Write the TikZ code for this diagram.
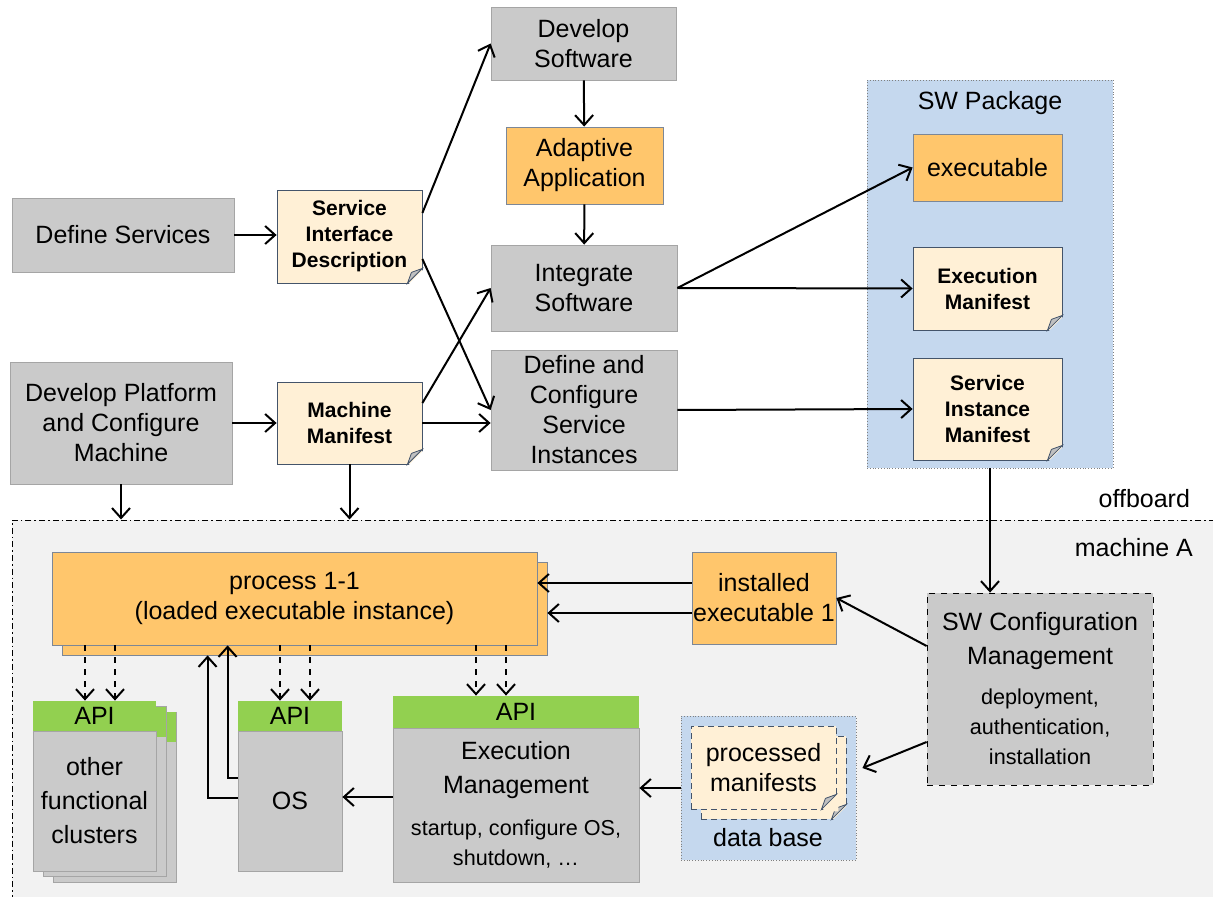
\documentclass[tikz,border=0pt]{standalone}
\usepackage{fontspec}
\setmainfont{Liberation Sans}
\usetikzlibrary{arrows.meta}

\definecolor{boxgray}{RGB}{202,202,202}
\definecolor{boxline}{RGB}{165,165,165}
\definecolor{sworange}{RGB}{255,198,108}
\definecolor{docfill}{RGB}{255,240,214}
\definecolor{docline}{RGB}{68,84,106}
\definecolor{pkgblue}{RGB}{197,216,238}
\definecolor{apigreen}{RGB}{146,208,80}
\definecolor{machbg}{RGB}{242,242,242}
\definecolor{foldgray}{RGB}{192,192,192}

\newcommand{\bigtxt}{\fontsize{12.5}{15}\selectfont}
\newcommand{\doctxt}{\fontsize{10.5}{13}\selectfont\bfseries}
\newcommand{\smalltxt}{\fontsize{10.8}{14}\selectfont}

% folded corner of a document node: node name, colour behind it
\newcommand{\dogear}[2]{%
  \fill[#2] ([xshift=-7.5pt,yshift=-1pt]#1.south east) -- ([xshift=1pt,yshift=-1pt]#1.south east)
    -- ([xshift=1pt,yshift=7.5pt]#1.south east) -- cycle;
  \filldraw[fill=foldgray, draw=docline, line width=0.4pt] ([xshift=-7.5pt]#1.south east)
    -- ([yshift=7.5pt]#1.south east) -- ([xshift=-5.5pt,yshift=5.5pt]#1.south east) -- cycle;
}

\tikzset{
  thick/.style={line width=1pt},
  graybox/.style={draw=boxline, fill=boxgray, align=center, inner sep=0.5pt},
  orangebox/.style={draw=docline!70, fill=sworange, align=center, inner sep=0.5pt},
  docbox/.style={draw=docline, fill=docfill, align=center, inner sep=0.5pt, font=\doctxt},
  apibox/.style={fill=apigreen, inner sep=0pt},
  area/.style={draw=gray, densely dotted, fill=pkgblue},
}

\begin{document}
\begin{tikzpicture}[x=0.5pt, y=-0.5pt, font=\bigtxt, >={Straight Barb[length=5pt,width=9pt]}]
            \useasboundingbox (0,0) rectangle (1213,897);
            \fill[white] (0,0) rectangle (1213,897);

            % offboard
            \node(devsw) at (583.5,43.5) [graybox, minimum width=92.5pt, minimum height=36.5pt] {Develop\\Software};
            \node(adapt) at (584.5,165.5) [orangebox, minimum width=78.5pt, minimum height=38.5pt] {Adaptive\\Application};
            \node(integ) at (584,288) [graybox, minimum width=93pt, minimum height=43pt] {Integrate\\Software};
            \node(defcfg) at (584,410) [graybox, minimum width=93pt, minimum height=60pt] {Define and\\Configure\\Service\\Instances};
            \node(defsrv) at (123,235) [graybox, minimum width=111pt, minimum height=37pt] {Define Services};
            \node(sid) at (349.5,236.5) [docbox, minimum width=72.5pt, minimum height=46.5pt] {Service\\Interface\\Description};
            \node(devplat) at (121,423) [graybox, minimum width=111pt, minimum height=61pt] {Develop Platform\\and Configure\\Machine};
            \node(mm) at (349.5,423) [docbox, minimum width=72.5pt, minimum height=41pt] {Machine\\Manifest};
            \dogear{sid}{white}
            \dogear{mm}{white}

            \node(swpkg) at (990,274) [area, minimum width=123pt, minimum height=194pt] {};
            \node(swpkg_label) at (990,103) {SW Package};
            \node(exe) at (987.5,167.5) [orangebox, minimum width=74.5pt, minimum height=33.5pt] {executable};
            \node(execman) at (987.5,288.5) [docbox, minimum width=74.5pt, minimum height=41.5pt] {Execution\\Manifest};
            \node(siman) at (987.5,409) [docbox, minimum width=74.5pt, minimum height=51pt] {Service\\Instance\\Manifest};
            \dogear{execman}{pkgblue}
            \dogear{siman}{pkgblue}

            \draw[->, thick] (defsrv.east) -- (sid.west |- defsrv.east);
            \draw[->, thick] ([yshift=11.75pt]sid.east) -- (devsw.west);
            \draw[->, thick] ([yshift=-11.25pt]sid.east) -- (defcfg.west);
            \draw[->, thick] ([yshift=10pt]mm.east) -- (integ.west);
            \draw[->, thick] (mm.east) -- (defcfg.west |- mm.east);
            \draw[->, thick] (devplat.east) -- (mm.west);
            \draw[->, thick] (devsw) -- (adapt);
            \draw[->, thick] (adapt) -- (integ);
            \draw[->, thick] (integ.east) -- (exe.west);
            \draw[->, thick] (integ.east) -- (execman.west);
            \draw[->, thick] (defcfg.east) -- (siman.west);

            % machine A
            \node(machA) at (621,712.5) [draw, fill=machbg, line width=0.5pt, dash pattern=on 3pt off 1.5pt on 0.8pt off 1.5pt, minimum width=609pt, minimum height=192.5pt] {};
            \node(offboard) at (1197,499) [anchor=east] {offboard};
            \node(machA_label) at (1200,548) [anchor=east] {machine A};

            \node(procb) at (304.5,608.5) [orangebox, minimum width=242.5pt, minimum height=46.5pt] {};
            \node(proc) at (294.5,598.5) [orangebox, minimum width=242.5pt, minimum height=46.5pt] {process 1-1\\(loaded executable instance)};
            \node(instexe) at (764,598) [orangebox, minimum width=72pt, minimum height=46pt] {installed\\executable 1};
            \node(swcm) at (1040,689) [graybox, draw=black, dashed, minimum width=113pt, minimum height=96pt] {SW Configuration\\[2pt]Management\\[5pt]\smalltxt deployment,\\\smalltxt authentication,\\\smalltxt installation};

            \foreach \i/\dx/\dy in {2/20/11, 1/10/5.5} {
                \node(ofcb\i) at (94.5+\dx,786+\dy) [graybox, minimum width=61.5pt, minimum height=85pt] {};
                \node(ofcb\i_api) at (94.5+\dx,716+\dy) [apibox, minimum width=61.5pt, minimum height=15pt] {};
            }
            \node(ofc) at (94.5,801) [graybox, minimum width=61.5pt, minimum height=70pt] {other\\[2pt]functional\\[2pt]clusters};
            \node(ofc_api) at (94.5,716) [apibox, minimum width=61.5pt, minimum height=15pt] {API};
            \node(os) at (290,801) [graybox, minimum width=52pt, minimum height=70pt] {OS};
            \node(os_api) at (290,716) [apibox, minimum width=52pt, minimum height=15pt] {API};
            \node(em) at (516,805) [graybox, minimum width=123pt, minimum height=77pt] {Execution\\[2pt]Management\\[6pt]\smalltxt startup, configure OS,\\\smalltxt shutdown, …};
            \node(em_api) at (516,712) [apibox, minimum width=123pt, minimum height=16pt] {API};

            \node(db) at (768.5,788) [area, minimum width=87.5pt, minimum height=72pt] {};
            \node(db_label) at (768,838) {data base};
            \node(pmb) at (773.5,777.5) [docbox, densely dashed, minimum width=72.5pt, minimum height=41.5pt] {};
            \node(pm) at (763.5,767.5) [docbox, densely dashed, font=\bigtxt, minimum width=72.5pt, minimum height=41.5pt] {processed\\manifests};
            \dogear{pmb}{pkgblue}
            \dogear{pm}{docfill}

            \draw[->, thick] (devplat.south) -- (devplat.south |- machA.north);
            \draw[->, thick] (mm.south) -- (mm.south |- machA.north);
            \draw[->, thick] (swpkg.south) -- (swpkg.south |- swcm.north);
            \draw[->, thick] ([yshift=21.5pt]swcm.west) -- (instexe.east);
            \draw[->, thick] ([yshift=-26.5pt]swcm.west) -- ([xshift=3pt,yshift=10pt]db.east);
            \draw[->, thick] ([yshift=7.5pt]instexe.west) -- ([yshift=7.5pt]instexe.west -| proc.east);
            \draw[->, thick] ([yshift=-7.5pt]instexe.west) -- ([yshift=-7.5pt]instexe.west -| procb.east);
            \foreach \api/\dx in {ofc_api/-4.75pt, ofc_api/10.25pt, os_api/-5pt, os_api/10pt, em_api/-20pt, em_api/-5pt}
                \draw[->, thick, dashed] ([xshift=\dx]\api.north |- proc.south) -- ([xshift=\dx]\api.north);
            \draw[->, thick] ([yshift=11.5pt]os.west) -| ([xshift=-5pt]os.west |- proc.south);
            \draw[->, thick] ([yshift=1.5pt]os.west) -| ([xshift=-15pt]os.west |- procb.south);
            \draw[->, thick] ([yshift=4pt]em.west) -- ([yshift=4pt]em.west -| os.east);
            \draw[->, thick] (db.west) -- (db.west -| em.east);
        \end{tikzpicture}
\end{document}
